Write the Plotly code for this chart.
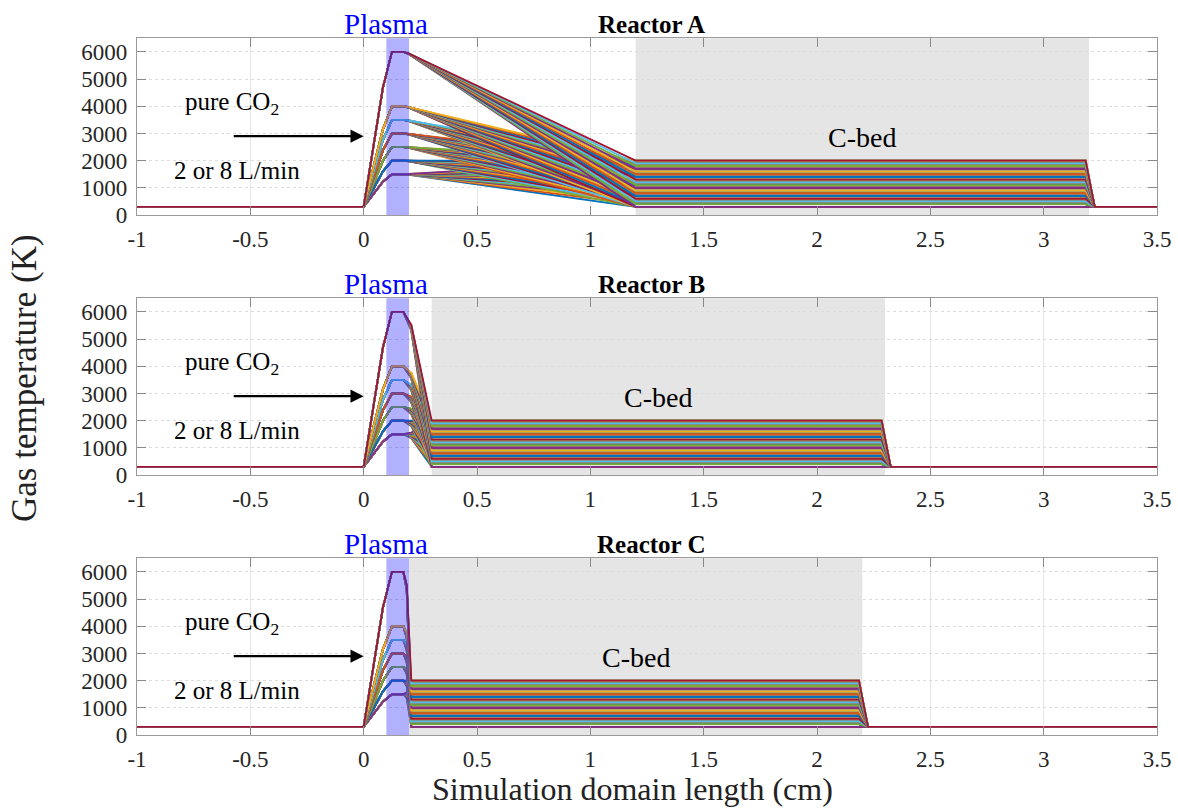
import plotly.graph_objects as go

# ---- data -------------------------------------------------------------
reactors = ["Reactor A", "Reactor B", "Reactor C"]
peak_temps = [1500, 2000, 2500, 3000, 3500, 4000, 6000]          # plasma peak (K)
bed_temps = list(range(300, 2001, 100))                            # C-bed level (K)
T_inlet = 300

# profile breakpoints along the domain (cm)
x_start, x_end = -1.0, 3.5
x_rise, x_peak, x_plateau = 0.085, 0.125, 0.175
rise_fraction = 0.77
knee_x = [0.2, 0.21, 0.19]            # first point after the plasma plateau
knee_frac = [0.015, 0.12, 0.12]       # fraction of the drop reached at that point
bed_start = [1.2, 0.3, 0.2]           # C-bed entrance
bed_line_start = [1.2, 0.3, 0.21]
bed_end = [3.2, 2.3, 2.2]             # C-bed exit
plasma_zone = (0.1, 0.2)

x_ticks = [-1, -0.5, 0, 0.5, 1, 1.5, 2, 2.5, 3, 3.5]
x_ticklabels = ["-1", "-0.5", "0", "0.5", "1", "1.5", "2", "2.5", "3", "3.5"]
y_ticks = [0, 1000, 2000, 3000, 4000, 5000, 6000]

palette = ["#0072BD", "#D95319", "#EDB120", "#7E2F8E", "#77AC30", "#4DBEEE", "#A2142F"]

# ---- figure -------------------------------------------------------------
W, H = 1178, 809
ml, mr = 137, 21
domains = [(1 - 215 / H, 1 - 38.3 / H),
           (1 - 475 / H, 1 - 298.3 / H),
           (1 - 735 / H, 1 - 558.3 / H)]

fig = go.Figure()
serif = "Liberation Serif, Times New Roman, serif"

for r in range(3):
    xa = "x" if r == 0 else f"x{r + 1}"
    ya = "y" if r == 0 else f"y{r + 1}"
    k = 0
    for Tp in peak_temps:
        for Tb in bed_temps:
            xs = [x_start, 0.0, x_rise, x_peak, x_plateau, knee_x[r],
                  bed_line_start[r], bed_end[r] - 0.015, bed_end[r] + 0.025, x_end]
            ys = [T_inlet, T_inlet, T_inlet + rise_fraction * (Tp - T_inlet), Tp, Tp,
                  Tp - knee_frac[r] * (Tp - Tb), Tb, Tb, T_inlet, T_inlet]
            fig.add_trace(go.Scatter(
                x=xs, y=ys, mode="lines", xaxis=xa, yaxis=ya,
                line=dict(color=palette[k % len(palette)], width=1.9),
                showlegend=False, hoverinfo="skip"))
            k += 1

    # C-bed and plasma regions
    fig.add_shape(type="rect", xref=xa, yref=f"{ya} domain",
                  x0=bed_start[r], x1=bed_end[r], y0=0, y1=1,
                  fillcolor="rgb(229,229,229)", line_width=0, layer="below")
    fig.add_shape(type="rect", xref=xa, yref=f"{ya} domain",
                  x0=plasma_zone[0], x1=plasma_zone[1], y0=0, y1=1,
                  fillcolor="rgba(40,40,255,0.36)", line_width=0, layer="above")

    axis_common = dict(showline=True, linecolor="#9a9a9a", linewidth=1.2, mirror="ticks",
                       ticks="inside", ticklen=9, tickcolor="#8a8a8a", tickwidth=1.2,
                       tickfont=dict(family=serif, size=23, color="#262626"),
                       zeroline=False, showgrid=True, automargin=False)
    fig.update_layout(**{
        ("xaxis" if r == 0 else f"xaxis{r + 1}"): dict(
            axis_common, range=[x_start, x_end], tickvals=x_ticks, ticktext=x_ticklabels,
            gridcolor="#e6e6e6", gridwidth=1, domain=[0, 1], anchor=ya,
            ticklabelstandoff=3),
        ("yaxis" if r == 0 else f"yaxis{r + 1}"): dict(
            axis_common, range=[0, 6500], tickvals=y_ticks,
            gridcolor="#dcdcdc", griddash="dot", gridwidth=1,
            domain=list(domains[r]), anchor=xa, ticklabelstandoff=4),
    })

    # panel labels
    fig.add_annotation(x=0.1, y=1, xref=xa, yref=f"{ya} domain", yanchor="bottom",
                       yshift=-4, text="Plasma", showarrow=False,
                       font=dict(family=serif, size=29, color="#0000ff"))
    fig.add_annotation(x=1.27, y=1, xref=xa, yref=f"{ya} domain", yanchor="bottom",
                       yshift=-2, text=f"<b>{reactors[r]}</b>", showarrow=False,
                       font=dict(family=serif, size=25, color="black"))
    fig.add_annotation(x=(bed_start[r] + bed_end[r]) / 2, y=2850, xref=xa, yref=ya,
                       text="C-bed", showarrow=False,
                       font=dict(family=serif, size=28, color="black"))
    fig.add_annotation(x=-0.58, y=4100, xref=xa, yref=ya,
                       text="pure CO<sub>2</sub>", showarrow=False,
                       font=dict(family=serif, size=25, color="black"))
    fig.add_annotation(x=-0.56, y=1650, xref=xa, yref=ya,
                       text="2 or 8 L/min", showarrow=False,
                       font=dict(family=serif, size=25, color="black"))
    fig.add_annotation(x=0.0, y=2900, ax=-0.58, ay=2900, xref=xa, yref=ya,
                       axref=xa, ayref=ya, text="", showarrow=True,
                       arrowhead=2, arrowsize=1.2, arrowwidth=2.2, arrowcolor="black")

fig.add_annotation(x=(25 - ml) / (W - ml - mr), y=1 - 378 / H, xref="paper", yref="paper",
                   xanchor="center", yanchor="middle",
                   text="Gas temperature (K)", textangle=-90, showarrow=False,
                   font=dict(family=serif, size=35, color="#222222"))
fig.add_annotation(x=(632 - ml) / (W - ml - mr), y=0, xref="paper", yref="paper",
                   xanchor="center", yanchor="bottom", yshift=0,
                   text="Simulation domain length (cm)", showarrow=False,
                   font=dict(family=serif, size=32, color="#222222"))

fig.update_layout(width=W, height=H, margin=dict(l=ml, r=mr, t=0, b=0, autoexpand=False),
                  paper_bgcolor="white", plot_bgcolor="white")

fig.write_html("out.html")
